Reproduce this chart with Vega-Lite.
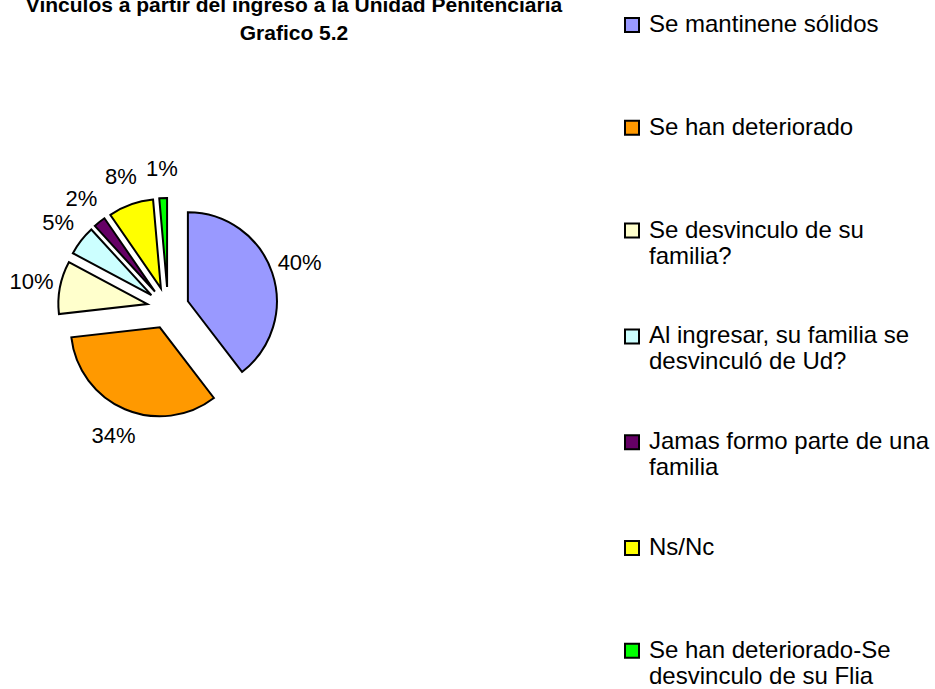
{
  "$schema": "https://vega.github.io/schema/vega-lite/v6.json",
  "background": "white",
  "autosize": "none",
  "padding": {"left": 0, "top": 50, "right": 599, "bottom": 125},
  "width": 336,
  "height": 516,
  "title": {
    "text": ["Vinculos a partir del ingreso a la Unidad Penitenciaria", "Grafico 5.2"],
    "font": "Liberation Sans",
    "fontSize": 21,
    "fontWeight": "bold",
    "color": "black",
    "anchor": "middle",
    "dx": 126,
    "offset": -54,
    "lineHeight": 28
  },
  "data": {
    "values": [
      {"categoria": "Se mantinene sólidos", "valor": 0.396, "orden": 1},
      {"categoria": "Se han deteriorado", "valor": 0.336, "orden": 2},
      {"categoria": "Se desvinculo de su familia?", "valor": 0.096, "orden": 3},
      {"categoria": "Al ingresar, su familia se desvinculó de Ud?", "valor": 0.054, "orden": 4},
      {"categoria": "Jamas formo parte de una familia", "valor": 0.022, "orden": 5},
      {"categoria": "Ns/Nc", "valor": 0.082, "orden": 6},
      {"categoria": "Se han deteriorado-Se desvinculo de su Flia", "valor": 0.014, "orden": 7}
    ]
  },
  "encoding": {
    "theta": {"field": "valor", "type": "quantitative", "stack": true},
    "order": {"field": "orden", "type": "quantitative", "sort": "ascending"}
  },
  "layer": [
    {
      "mark": {
        "type": "arc",
        "outerRadius": 89,
        "stroke": "black",
        "strokeWidth": 2,
        "strokeJoin": "miter",
        "xOffset": {"expr": "21*sin(PI*(datum.valor_start+datum.valor_end))"},
        "yOffset": {"expr": "-21*cos(PI*(datum.valor_start+datum.valor_end))"}
      },
      "encoding": {
        "color": {
          "field": "categoria",
          "type": "nominal",
          "sort": null,
          "scale": {
            "domain": ["Se mantinene sólidos", "Se han deteriorado", "Se desvinculo de su familia?", "Al ingresar, su familia se desvinculó de Ud?", "Jamas formo parte de una familia", "Ns/Nc", "Se han deteriorado-Se desvinculo de su Flia"],
            "range": ["#9999FF", "#FF9900", "#FFFFCC", "#CCFFFF", "#660066", "#FFFF00", "#00FF00"]
          },
          "legend": {
            "orient": "none",
            "legendX": 620,
            "legendY": -60,
            "title": null,
            "symbolType": "square",
            "symbolSize": 196,
            "symbolStrokeColor": "black",
            "symbolStrokeWidth": 2,
            "labelFont": "Liberation Sans",
            "labelFontSize": 24,
            "labelColor": "black",
            "labelOffset": 5,
            "labelLimit": 0,
            "clipHeight": 70,
            "rowPadding": 32.8,
            "encode": {"labels": {"update": {"lineHeight": {"value": 26}}}},
            "labelExpr": "datum.label == 'Se desvinculo de su familia?' ? ['Se desvinculo de su', 'familia?'] : datum.label == 'Al ingresar, su familia se desvinculó de Ud?' ? ['Al ingresar, su familia se', 'desvinculó de Ud?'] : datum.label == 'Jamas formo parte de una familia' ? ['Jamas formo parte de una', 'familia'] : datum.label == 'Se han deteriorado-Se desvinculo de su Flia' ? ['Se han deteriorado-Se', 'desvinculo de su Flia'] : datum.label"
          }
        }
      }
    },
    {
      "mark": {
        "type": "text",
        "radius": 139,
        "font": "Liberation Sans",
        "fontSize": 22,
        "color": "black"
      },
      "encoding": {
        "detail": {"field": "categoria", "type": "nominal"},
        "text": {"field": "valor", "type": "quantitative", "format": ".0%"}
      }
    }
  ],
  "config": {"view": {"stroke": null}}
}
